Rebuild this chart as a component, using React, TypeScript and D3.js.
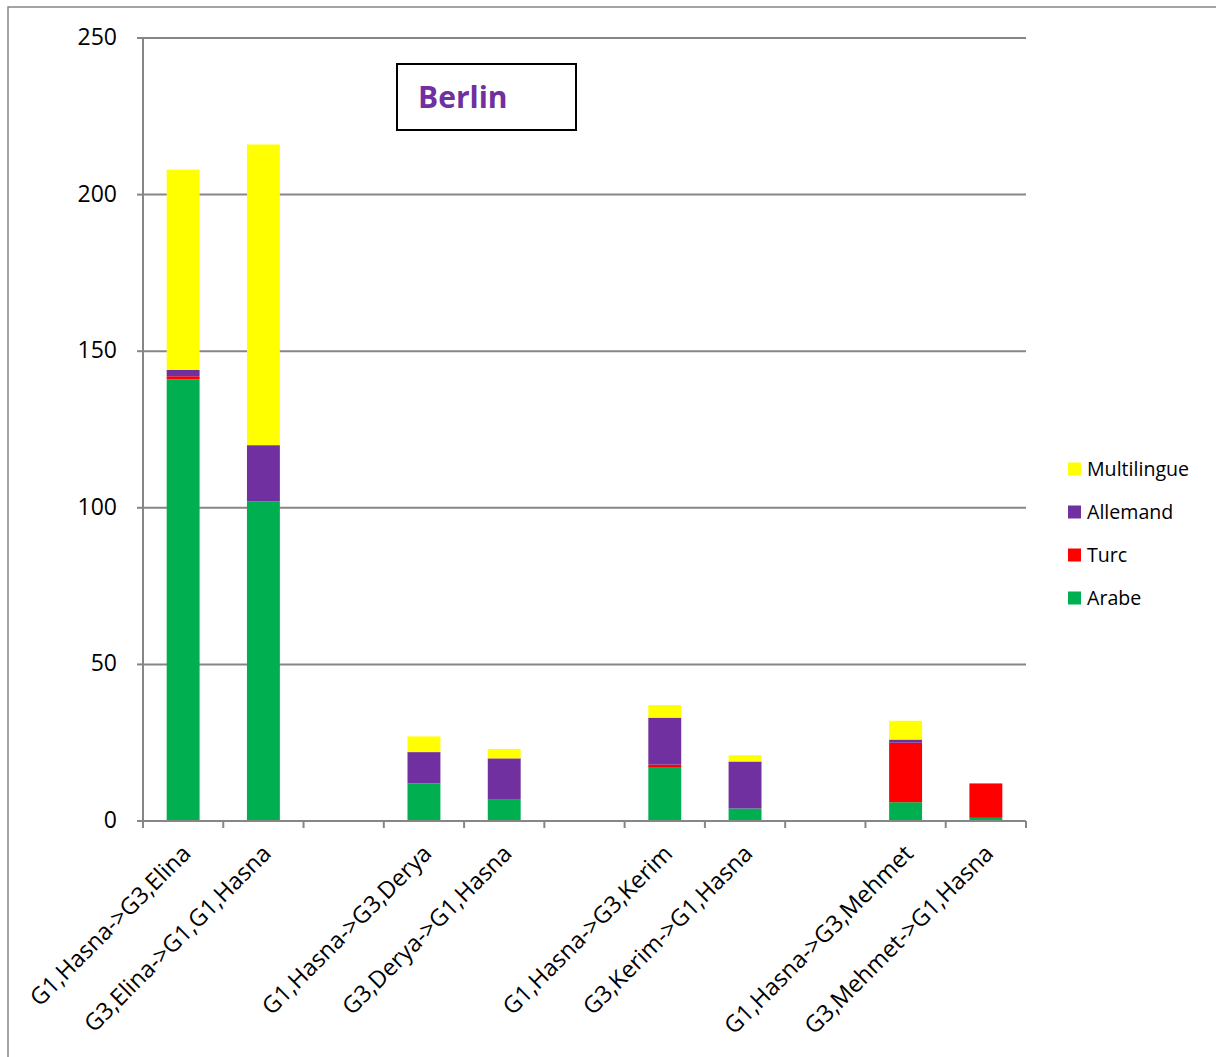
import React, { useEffect, useRef } from "react";
import * as d3 from "d3";

const categories = [
  "G1,Hasna->G3,Elina",
  "G3,Elina->G1,G1,Hasna",
  "",
  "G1,Hasna->G3,Derya",
  "G3,Derya->G1,Hasna",
  " ",
  "G1,Hasna->G3,Kerim",
  "G3,Kerim->G1,Hasna",
  "  ",
  "G1,Hasna->G3,Mehmet",
  "G3,Mehmet->G1,Hasna",
];

const arabe = [141, 102, 0, 12, 7, 0, 17, 4, 0, 6, 1];
const turc = [1, 0, 0, 0, 0, 0, 1, 0, 0, 19, 11];
const allemand = [2, 18, 0, 10, 13, 0, 15, 15, 0, 1, 0];
const multilingue = [64, 96, 0, 5, 3, 0, 4, 2, 0, 6, 0];

const seriesNames = ["Arabe", "Turc", "Allemand", "Multilingue"];
const seriesColors = ["#00B050", "#FF0000", "#7030A0", "#FFFF00"];
const yTicks = [0, 50, 100, 150, 200, 250];
const title = "Berlin";

const FONT = "'Open Sans', 'Liberation Sans', sans-serif";

export default function App() {
  const ref = useRef<SVGSVGElement>(null);

  useEffect(() => {
    const svg = d3.select(ref.current);
    svg.selectAll("*").remove();

    const left = 143, right = 1026, top = 38, bottom = 821;
    const x = d3.scaleBand<number>().domain(d3.range(categories.length)).range([left, right]).paddingInner(0).paddingOuter(0);
    const y = d3.scaleLinear().domain([0, 250]).range([bottom, top]);

    // outer border
    svg.append("rect").attr("x", 8).attr("y", 7).attr("width", 1240).attr("height", 1100)
      .attr("fill", "white").attr("stroke", "#868686").attr("stroke-width", 1.5);

    // gridlines
    svg.append("g").selectAll("line").data(yTicks.filter(d => d > 0)).join("line")
      .attr("x1", left).attr("x2", right).attr("y1", d => y(d)).attr("y2", d => y(d))
      .attr("stroke", "#868686").attr("stroke-width", 2);

    // stacks
    const rows = categories.map((c, i) => ({ i, Arabe: arabe[i], Turc: turc[i], Allemand: allemand[i], Multilingue: multilingue[i] }));
    const stack = d3.stack<any>().keys(seriesNames)(rows);
    const bw = x.bandwidth() * 0.41;
    stack.forEach((layer, si) => {
      svg.append("g").selectAll("rect").data(layer.filter(d => d[1] - d[0] > 0)).join("rect")
        .attr("x", d => x(d.data.i)! + x.bandwidth() / 2 - bw / 2)
        .attr("width", bw)
        .attr("y", d => y(d[1]))
        .attr("height", d => y(d[0]) - y(d[1]))
        .attr("fill", seriesColors[si]);
    });

    // y axis
    svg.append("line").attr("x1", left).attr("x2", left).attr("y1", top).attr("y2", bottom)
      .attr("stroke", "#868686").attr("stroke-width", 2);
    const yt = svg.append("g");
    yTicks.forEach(t => {
      yt.append("line").attr("x1", left - 6).attr("x2", left).attr("y1", y(t)).attr("y2", y(t))
        .attr("stroke", "#868686").attr("stroke-width", 2);
      yt.append("text").attr("x", 117).attr("y", y(t) - 1).attr("dy", "0.35em")
        .attr("text-anchor", "end").attr("font-family", FONT).attr("font-size", 23)
        .attr("fill", "#000").text(String(t));
    });

    // x axis
    svg.append("line").attr("x1", left).attr("x2", right).attr("y1", bottom).attr("y2", bottom)
      .attr("stroke", "#868686").attr("stroke-width", 2);
    const bounds = d3.range(categories.length + 1).map(i => left + i * x.step());
    svg.append("g").selectAll("line").data(bounds).join("line")
      .attr("x1", d => d).attr("x2", d => d).attr("y1", bottom).attr("y2", bottom + 7)
      .attr("stroke", "#868686").attr("stroke-width", 2);

    categories.forEach((c, i) => {
      if (!c.trim()) return;
      const cx = x(i)! + x.bandwidth() / 2 + 9;
      const cy = bottom + 34;
      svg.append("text")
        .attr("transform", `translate(${cx},${cy}) rotate(-45)`)
        .attr("text-anchor", "end")
        .attr("font-family", FONT).attr("font-size", 23.5)
        .attr("fill", "#000").text(c);
    });

    // title box
    svg.append("rect").attr("x", 397).attr("y", 64).attr("width", 179).attr("height", 66)
      .attr("fill", "white").attr("stroke", "#000").attr("stroke-width", 2);
    svg.append("text").attr("x", 418).attr("y", 108).attr("font-family", FONT)
      .attr("font-weight", "bold").attr("font-size", 30).attr("fill", "#7030A0").text(title);

    // legend
    const legendOrder = [3, 2, 1, 0];
    legendOrder.forEach((si, k) => {
      const ly = 469 + k * 43;
      svg.append("rect").attr("x", 1068).attr("y", ly - 6.5).attr("width", 13).attr("height", 13)
        .attr("fill", seriesColors[si]);
      svg.append("text").attr("x", 1087).attr("y", ly).attr("dy", "0.35em")
        .attr("font-family", FONT).attr("font-size", 19.6).attr("fill", "#000").text(seriesNames[si]);
    });
  }, []);

  return (
    <svg ref={ref} width={1216} height={1057}
      style={{ position: "absolute", left: 0, top: 0, background: "white" }} />
  );
}
